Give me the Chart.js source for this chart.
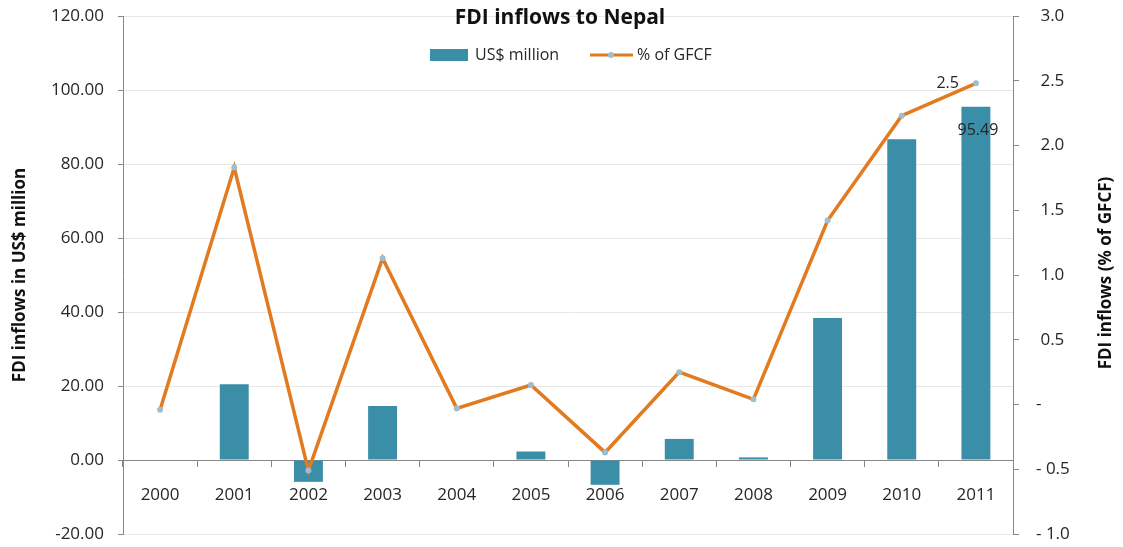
<!DOCTYPE html>
<html>
<head>
<meta charset="utf-8">
<script src="https://cdn.jsdelivr.net/npm/chart.js@4.4.0/dist/chart.umd.min.js"></script>
<style>
  html, body { margin: 0; padding: 0; background: #fff; }
</style>
</head>
<body>
<canvas id="fdiChart" width="1123" height="547"></canvas>
<script>
// chart data
const years = ["2000", "2001", "2002", "2003", "2004", "2005", "2006", "2007", "2008", "2009", "2010", "2011"]
const fdiUsdMillion = [0, 20.5, -5.9, 14.6, 0, 2.3, -6.7, 5.7, 0.7, 38.4, 86.7, 95.49]
const fdiPctGfcf = [-0.04, 1.83, -0.51, 1.13, -0.03, 0.15, -0.37, 0.25, 0.04, 1.42, 2.23, 2.48]
const seriesNames = ["US$ million", "% of GFCF"]

const FONT = '"Open Sans", sans-serif'
const BAR_COLOR = "#3a8ea8"
const LINE_COLOR = "#e27a1f"
const POINT_COLOR = "#9dbdd0"
const AXIS_COLOR = "#888888"
const TEXT_COLOR = "#262626"

// accounting style labels for the right axis
const pctLabel = (v) => {
  if (Math.abs(v) < 1e-9) return "-"
  if (v < 0) return "- " + Math.abs(v).toFixed(1)
  return " " + v.toFixed(1)
}

/**
 * Draws the title, legend, right axis title and the two value labels
 */
const overlay = {
  id: "overlay",
  afterDatasetsDraw(chart) {
    const ctx = chart.ctx
    const last = years.length - 1
    const bar = chart.getDatasetMeta(1).data[last]
    const pt = chart.getDatasetMeta(0).data[last]
    ctx.save()
    ctx.fillStyle = TEXT_COLOR
    ctx.font = "16px " + FONT
    ctx.textBaseline = "middle"
    ctx.textAlign = "center"
    ctx.fillText(fdiUsdMillion[last].toFixed(2), bar.x + 2, bar.y + 24)
    ctx.textAlign = "right"
    ctx.fillText(fdiPctGfcf[last].toFixed(1), pt.x - 17, pt.y)
    ctx.restore()
  },
  afterDraw(chart) {
    const ctx = chart.ctx
    ctx.save()
    ctx.fillStyle = "#111"
    ctx.textBaseline = "middle"
    ctx.textAlign = "center"
    ctx.font = "bold 21px " + FONT
    ctx.fillText("FDI inflows to Nepal", 560, 18)

    // legend
    ctx.font = "16px " + FONT
    ctx.textAlign = "left"
    ctx.fillStyle = BAR_COLOR
    ctx.fillRect(430, 49, 38, 12)
    ctx.fillStyle = TEXT_COLOR
    ctx.fillText(seriesNames[0], 475, 55)
    ctx.strokeStyle = LINE_COLOR
    ctx.lineWidth = 3
    ctx.beginPath()
    ctx.moveTo(590, 55)
    ctx.lineTo(633, 55)
    ctx.stroke()
    ctx.fillStyle = POINT_COLOR
    ctx.beginPath()
    ctx.arc(611, 55, 3, 0, Math.PI * 2)
    ctx.fill()
    ctx.fillStyle = TEXT_COLOR
    ctx.fillText(seriesNames[1], 637, 55)

    // right axis title reads bottom to top
    ctx.translate(1106, 273)
    ctx.rotate(-Math.PI / 2)
    ctx.textAlign = "center"
    ctx.fillStyle = "#111"
    ctx.font = "bold 17px " + FONT
    ctx.fillText("FDI inflows (% of GFCF)", 0, 0)
    ctx.restore()
  }
}

const createChart = (canvas) => {
  const ctx = canvas.getContext("2d")

  return new Chart(ctx, {
    data: {
      labels: years,
      datasets: [
        {
          type: "line",
          label: seriesNames[1],
          data: fdiPctGfcf,
          yAxisID: "y2",
          borderColor: LINE_COLOR,
          borderWidth: 3.5,
          tension: 0,
          pointRadius: 3,
          pointBorderWidth: 0,
          pointBackgroundColor: POINT_COLOR,
          order: 0
        },
        {
          type: "bar",
          label: seriesNames[0],
          data: fdiUsdMillion,
          yAxisID: "y",
          backgroundColor: BAR_COLOR,
          barPercentage: 0.39,
          categoryPercentage: 1,
          order: 1
        }
      ]
    },
    options: {
      responsive: false,
      animation: false,
      layout: {
        padding: { left: 0, right: 0, top: 16, bottom: 13 }
      },
      scales: {
        x: {
          type: "category",
          position: { y: 0 },
          grid: {
            drawOnChartArea: false,
            offset: true,
            tickLength: 6,
            tickColor: AXIS_COLOR
          },
          border: { color: AXIS_COLOR, width: 1 },
          ticks: {
            color: TEXT_COLOR,
            padding: 19,
            maxRotation: 0,
            font: { family: FONT, size: 17 }
          }
        },
        y: {
          position: "left",
          min: -20,
          max: 120,
          afterFit(scale) {
            scale.width = 123
            scale.paddingTop = 0
            scale.paddingBottom = 0
          },
          grid: {
            color: "#e8e8e8",
            tickColor: AXIS_COLOR,
            tickLength: 5
          },
          border: { color: AXIS_COLOR, width: 1 },
          ticks: {
            stepSize: 20,
            color: TEXT_COLOR,
            padding: 14,
            font: { family: FONT, size: 17 },
            callback: (v) => Number(v).toFixed(2)
          },
          title: {
            display: true,
            text: "FDI inflows in US$ million",
            color: "#111",
            padding: { top: 10, bottom: 0 },
            font: { family: FONT, size: 17, weight: "bold" }
          }
        },
        y2: {
          position: "right",
          min: -1,
          max: 3,
          afterFit(scale) {
            scale.width = 110
            scale.paddingTop = 0
            scale.paddingBottom = 0
          },
          grid: {
            drawOnChartArea: false,
            tickColor: AXIS_COLOR,
            tickLength: 6
          },
          border: { color: AXIS_COLOR, width: 1 },
          ticks: {
            stepSize: 0.5,
            color: TEXT_COLOR,
            padding: 17,
            font: { family: FONT, size: 17 },
            callback: (v) => pctLabel(Number(v))
          }
        }
      },
      plugins: {
        legend: { display: false },
        title: { display: false },
        tooltip: { enabled: false }
      }
    },
    plugins: [overlay]
  })
}

createChart(document.getElementById("fdiChart"))
</script>
</body>
</html>
